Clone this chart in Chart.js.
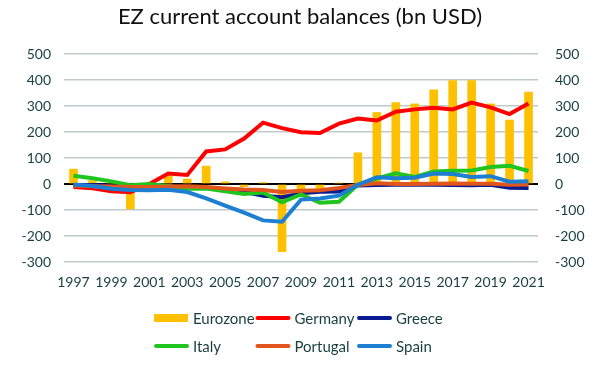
<!DOCTYPE html>
<html>
<head>
<meta charset="utf-8">
<script src="https://cdn.jsdelivr.net/npm/chart.js@4.4.1/dist/chart.umd.min.js"></script>
<style>
  html, body { margin: 0; padding: 0; background: #fff; }
  #wrap { width: 600px; height: 369px; }
</style>
</head>
<body>
<div id="wrap"><canvas id="c" width="600" height="369"></canvas></div>
<script>
const years = ['1997', '1998', '1999', '2000', '2001', '2002', '2003', '2004', '2005', '2006',
  '2007', '2008', '2009', '2010', '2011', '2012', '2013', '2014', '2015', '2016',
  '2017', '2018', '2019', '2020', '2021']

// bn USD
const eurozone = [57, 13, 4, -96, 4, 32, 19, 69, 8, -10, 5, -260, -20, -20, 4, 120, 275, 313, 308, 362, 398, 398, 308, 246, 354]
const germany = [-12, -16, -28, -32, 0, 40, 35, 125, 133, 175, 236, 215, 199, 196, 232, 252, 244, 278, 287, 293, 287, 313, 295, 269, 310]
const greece = [-5, -4, -8, -10, -10, -10, -12, -15, -20, -30, -45, -51, -36, -30, -29, -6, -4, -3, -2, -3, -4, -5, -3, -14, -15]
const italy = [32, 22, 10, -5, 0, -8, -18, -17, -28, -38, -33, -70, -40, -72, -68, -3, 21, 41, 27, 48, 51, 52, 65, 70, 50]
const portugal = [-7, -9, -10, -12, -12, -10, -9, -12, -17, -21, -23, -31, -26, -24, -15, -4, 3, 0, 0, 1, 2, 1, 1, -3, -2]
const spain = [-2, -8, -18, -23, -24, -22, -31, -55, -83, -110, -140, -145, -60, -56, -45, -3, 26, 22, 24, 40, 38, 27, 30, 9, 11]

const yMin = -300
const yMax = 500
const yStep = 100

const tickColor = '#173f3e'
const font = 'Lato, "Liberation Sans", sans-serif'

function lineSet(label, data, color, order) {
  return {
    type: 'line',
    label: label,
    data: data,
    borderColor: color,
    backgroundColor: color,
    borderWidth: 4,
    pointRadius: 0,
    tension: 0,
    order: order,
  }
}

const datasets = [
  {
    type: 'bar',
    label: 'Eurozone',
    data: eurozone,
    backgroundColor: '#FFC000',
    barThickness: 8,
    order: 10,
  },
  lineSet('Germany', germany, '#FF0000', 5),
  lineSet('Greece', greece, '#0a1a90', 4),
  lineSet('Italy', italy, '#1fc41f', 3),
  lineSet('Portugal', portugal, '#e0561c', 2),
  lineSet('Spain', spain, '#1c7fd2', 1),
]

// legend laid out as a 3 column grid, like the original
const gridLegend = {
  id: 'gridLegend',
  afterDraw(chart) {
    const ctx = chart.ctx
    const colW = 101.5
    const x0 = chart.width / 2 - 146
    const rowY = [318, 346]
    ctx.save()
    ctx.font = '15px ' + font
    ctx.textBaseline = 'middle'
    chart.data.datasets.forEach((ds, i) => {
      let x = x0 + (i % 3) * colW
      let y = rowY[Math.floor(i / 3)]
      if (ds.type === 'bar') {
        ctx.fillStyle = ds.backgroundColor
        ctx.fillRect(x, y - 4, 34, 8)
      } else {
        ctx.strokeStyle = ds.borderColor
        ctx.lineWidth = 4
        ctx.lineCap = 'round'
        ctx.beginPath()
        ctx.moveTo(x + 2, y)
        ctx.lineTo(x + 33, y)
        ctx.stroke()
      }
      ctx.fillStyle = tickColor
      ctx.fillText(ds.label, x + 39, y + 1)
    })
    ctx.restore()
  },
}

new Chart(document.getElementById('c'), {
  data: {
    labels: years,
    datasets: datasets,
  },
  plugins: [gridLegend],
  options: {
    responsive: false,
    animation: false,
    layout: {
      padding: {left: 0, right: 0, top: 0, bottom: 72},
    },
    plugins: {
      legend: {display: false},
      tooltip: {enabled: false},
      title: {
        display: true,
        text: 'EZ current account balances (bn USD)',
        color: '#111',
        font: {family: font, size: 22, weight: 'normal'},
        padding: {top: 4, bottom: 23.6},
      },
    },
    scales: {
      x: {
        offset: true,
        grid: {display: false, drawTicks: false},
        border: {display: false},
        ticks: {
          color: tickColor,
          font: {family: font, size: 14},
          autoSkip: false,
          maxRotation: 0,
          padding: 12,
          callback: function(val, i) {
            return i % 2 === 0 ? this.getLabelForValue(val) : ''
          },
        },
        afterFit(scale) { scale.height = 35 },
      },
      y: {
        position: 'left',
        min: yMin,
        max: yMax,
        grid: {
          drawTicks: false,
          color: (c) => (c.tick && c.tick.value === 0 ? '#000' : '#bfcaca'),
          lineWidth: (c) => (c.tick && c.tick.value === 0 ? 2 : 1.5),
        },
        border: {display: false},
        ticks: {
          stepSize: yStep,
          color: tickColor,
          font: {family: font, size: 14},
          padding: 13,
        },
        afterFit(scale) { scale.width = 64 },
      },
      y2: {
        position: 'right',
        min: yMin,
        max: yMax,
        grid: {display: false, drawTicks: false},
        border: {display: false},
        ticks: {
          stepSize: yStep,
          color: tickColor,
          font: {family: font, size: 14},
          padding: 17,
        },
        afterFit(scale) { scale.width = 62 },
      },
    },
  },
})
</script>
</body>
</html>
